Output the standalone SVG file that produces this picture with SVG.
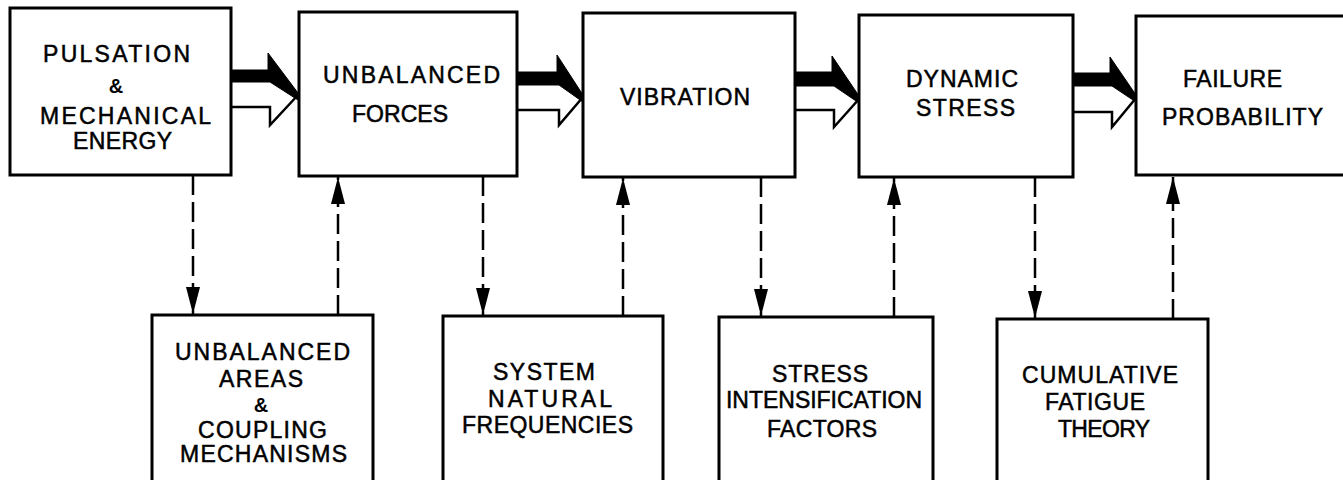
<svg xmlns="http://www.w3.org/2000/svg" width="1343" height="480" viewBox="0 0 1343 480">
<style>
.box{fill:#fff;stroke:#000;stroke-width:3}
.t{font-family:"Liberation Sans",Arial,sans-serif;font-size:23px;fill:#000;stroke:#000;stroke-width:0.5}
.amp{font-family:"Liberation Sans",Arial,sans-serif;font-size:20px;font-weight:bold;fill:#000;text-anchor:middle}
.blk{fill:#000;stroke:#000;stroke-width:1}
.wht{fill:none;stroke:#000;stroke-width:2.5;stroke-linejoin:miter}
.dash{fill:none;stroke:#000;stroke-width:2.5;stroke-dasharray:20 7;marker-end:url(#ah)}
</style>
<defs>
<marker id="ah" markerUnits="userSpaceOnUse" viewBox="0 0 27 14" markerWidth="27" markerHeight="14" refX="27" refY="7" orient="auto">
<path d="M0,0 L27,7 L0,14 Z" fill="#000"/>
</marker>
</defs>
<rect width="1343" height="480" fill="#fff"/>

<g id="connectors">
<path class="blk" d="M230,70 H268 V53 L298,93 V100 L270,82 H230 Z"/>
<path class="wht" d="M230,107 H270 V125 L298,95"/>
<path class="blk" d="M517,72 H557 V55 L583,95 V102 L559,85 H517 Z"/>
<path class="wht" d="M517,110 H559 V125 L583,97"/>
<path class="blk" d="M795,72 H832 V56 L859,96 V103 L834,86 H795 Z"/>
<path class="wht" d="M795,110 H834 V127 L859,99"/>
<path class="blk" d="M1073,73 H1110 V57 L1136,95 V102 L1112,86 H1073 Z"/>
<path class="wht" d="M1073,112 H1112 V127 L1136,98"/>
<line class="dash" x1="193" y1="175" x2="193" y2="314"/>
<line class="dash" x1="338" y1="315" x2="338" y2="177"/>
<line class="dash" x1="483" y1="176" x2="483" y2="315"/>
<line class="dash" x1="623" y1="316" x2="623" y2="178"/>
<line class="dash" x1="761" y1="177" x2="761" y2="316"/>
<line class="dash" x1="894" y1="317" x2="894" y2="178"/>
<line class="dash" x1="1035" y1="177" x2="1035" y2="318"/>
<line class="dash" x1="1173" y1="319" x2="1173" y2="177"/>
</g>

<g id="n1">
<rect class="box" x="10" y="8" width="221" height="167"/>
<text class="t" x="43" y="62" textLength="147" lengthAdjust="spacing">PULSATION</text>
<text class="amp" x="116" y="93">&amp;</text>
<text class="t" x="40" y="124" textLength="171" lengthAdjust="spacing">MECHANICAL</text>
<text class="t" x="73" y="149" textLength="99" lengthAdjust="spacing">ENERGY</text>
</g>
<g id="n2">
<rect class="box" x="299" y="12" width="218" height="164"/>
<text class="t" x="323" y="83" textLength="177" lengthAdjust="spacing">UNBALANCED</text>
<text class="t" x="352" y="122" textLength="96" lengthAdjust="spacing">FORCES</text>
</g>
<g id="n3">
<rect class="box" x="583" y="13" width="212" height="164"/>
<text class="t" x="620" y="105" textLength="130" lengthAdjust="spacing">VIBRATION</text>
</g>
<g id="n4">
<rect class="box" x="859" y="15" width="214" height="162"/>
<text class="t" x="906" y="87" textLength="112" lengthAdjust="spacing">DYNAMIC</text>
<text class="t" x="916" y="116" textLength="99" lengthAdjust="spacing">STRESS</text>
</g>
<g id="n5">
<rect class="box" x="1136" y="16" width="220" height="159"/>
<text class="t" x="1183" y="87" textLength="99" lengthAdjust="spacing">FAILURE</text>
<text class="t" x="1162" y="125" textLength="161" lengthAdjust="spacing">PROBABILITY</text>
</g>
<g id="n6">
<rect class="box" x="152" y="315" width="221" height="175"/>
<text class="t" x="175" y="360" textLength="175" lengthAdjust="spacing">UNBALANCED</text>
<text class="t" x="219" y="387" textLength="84" lengthAdjust="spacing">AREAS</text>
<text class="amp" x="261" y="412">&amp;</text>
<text class="t" x="198" y="438" textLength="129" lengthAdjust="spacing">COUPLING</text>
<text class="t" x="180" y="462" textLength="167" lengthAdjust="spacing">MECHANISMS</text>
</g>
<g id="n7">
<rect class="box" x="443" y="316" width="220" height="174"/>
<text class="t" x="493" y="380" textLength="102" lengthAdjust="spacing">SYSTEM</text>
<text class="t" x="488" y="407" textLength="124" lengthAdjust="spacing">NATURAL</text>
<text class="t" x="462" y="433" textLength="171" lengthAdjust="spacing">FREQUENCIES</text>
</g>
<g id="n8">
<rect class="box" x="719" y="317" width="214" height="173"/>
<text class="t" x="772" y="382" textLength="96" lengthAdjust="spacing">STRESS</text>
<text class="t" x="726" y="408" textLength="196" lengthAdjust="spacing">INTENSIFICATION</text>
<text class="t" x="767" y="437" textLength="110" lengthAdjust="spacing">FACTORS</text>
</g>
<g id="n9">
<rect class="box" x="997" y="319" width="211" height="171"/>
<text class="t" x="1022" y="383" textLength="156" lengthAdjust="spacing">CUMULATIVE</text>
<text class="t" x="1045" y="410" textLength="100" lengthAdjust="spacing">FATIGUE</text>
<text class="t" x="1058" y="437" textLength="92" lengthAdjust="spacing">THEORY</text>
</g>
</svg>
